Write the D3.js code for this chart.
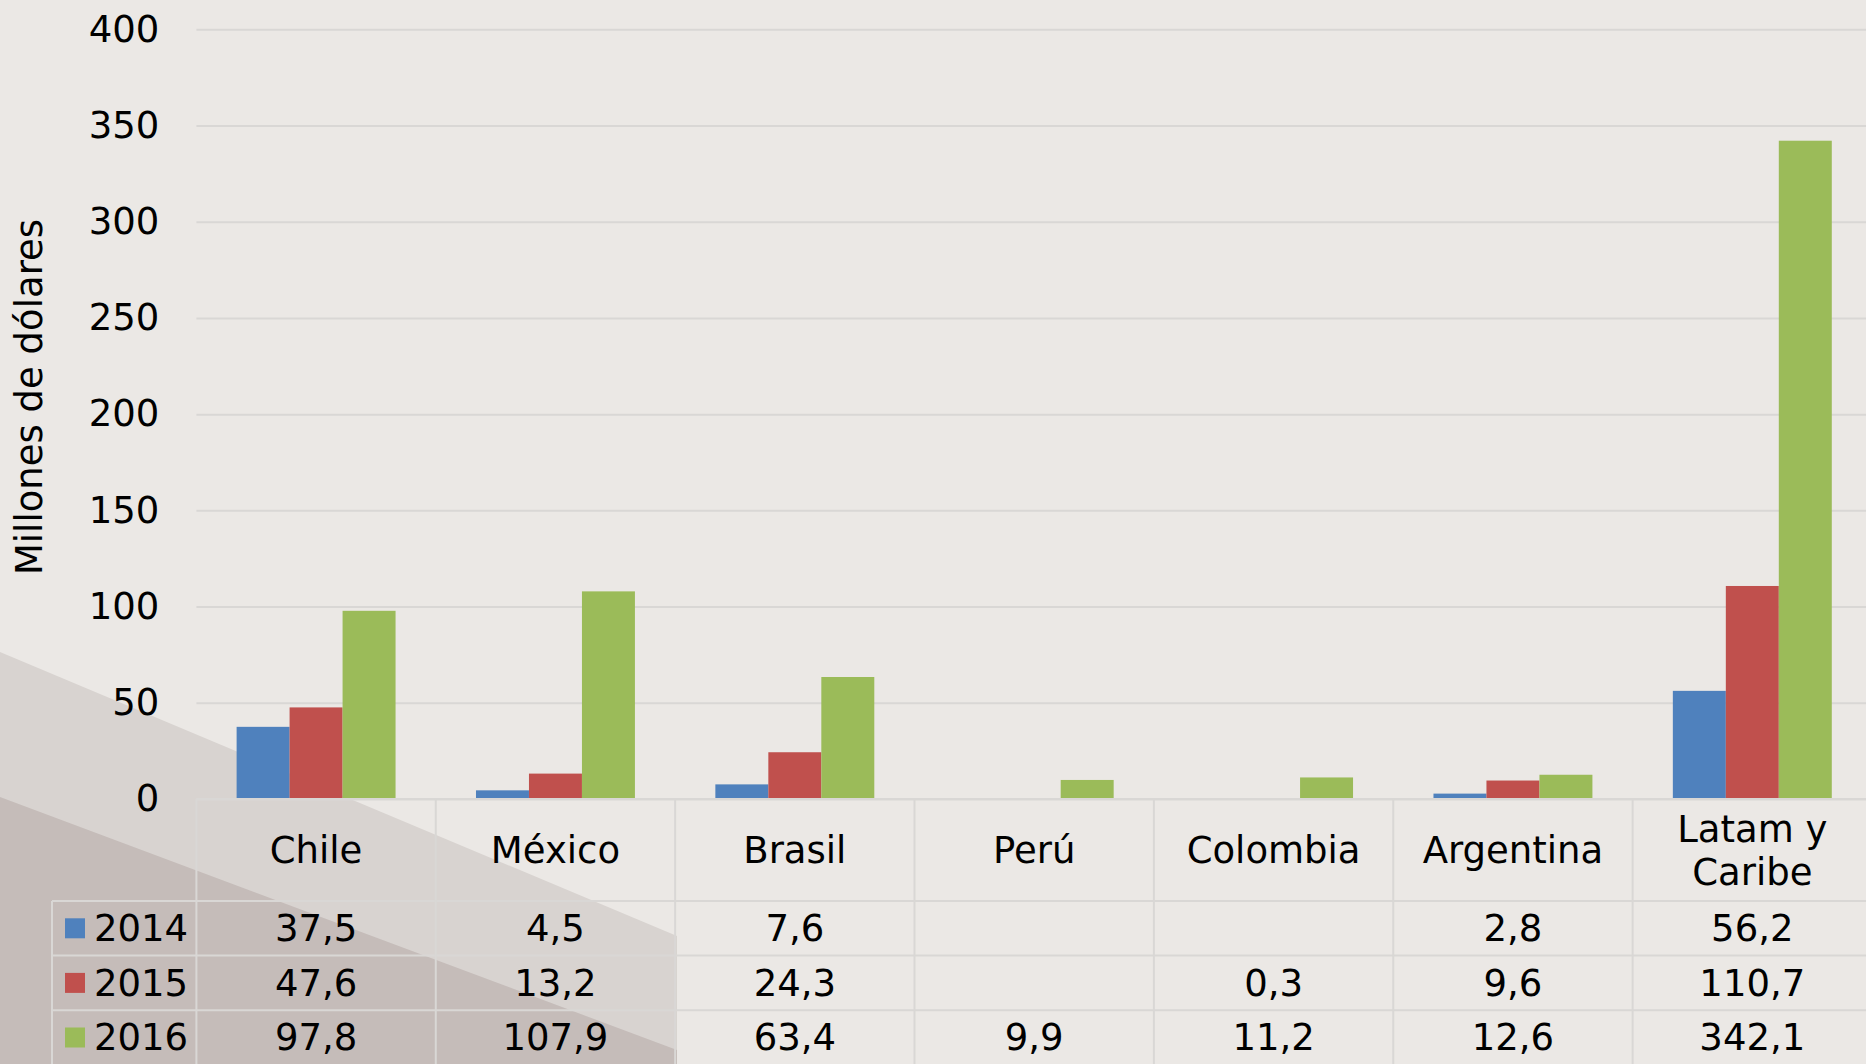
<!DOCTYPE html>
<html>
<head>
<meta charset="utf-8">
<script src="https://cdn.jsdelivr.net/npm/d3@7"></script>
<style>
  html, body { margin: 0; padding: 0; background: #ebe8e5; }
  svg { display: block; }
  text { font-family: "DejaVu Sans", Verdana, sans-serif; fill: #000; }
</style>
</head>
<body>
<div id="chart"></div>
<script>
// data
var categories = ["Chile", "México", "Brasil", "Perú", "Colombia", "Argentina", "Latam y Caribe"];
var years = ["2014", "2015", "2016"];
var values2014 = [37.5, 4.5, 7.6, null, null, 2.8, 56.2];
var values2015 = [47.6, 13.2, 24.3, null, 0.3, 9.6, 110.7];
var values2016 = [97.8, 107.9, 63.4, 9.9, 11.2, 12.6, 342.1];
var yTicks = [0, 50, 100, 150, 200, 250, 300, 350, 400];
var colors = ["#4f81bd", "#c0504d", "#9bbb59"];

var series = [values2014, values2015, values2016];

var W = 1866, H = 1064;
var plotLeft = 196.4, plotRight = 1872, plotTop = 29.3, base = 799;
var headerBottom = 901, rowH = 54.6, legendLeft = 52;
var fontSize = 37;
var lineColor = "#d9d7d5";

var svg = d3.select("#chart").append("svg")
    .attr("width", W)
    .attr("height", H);

svg.append("rect")
    .attr("width", W)
    .attr("height", H)
    .attr("fill", "#ebe8e5");

// shaded diagonal in the bottom left corner
svg.append("polygon")
    .attr("points", "0,652 677,936 677,1064 0,1064")
    .attr("fill", "#d8d3d0");
svg.append("polygon")
    .attr("points", "0,797 677,1050 677,1064 0,1064")
    .attr("fill", "#c5bcb9");

var x = d3.scaleBand()
    .domain(categories)
    .range([plotLeft, plotRight])
    .padding(0);

var bw = x.bandwidth();
var xIn = d3.scaleBand()
    .domain(years)
    .range([bw * 0.168, bw * 0.832])
    .padding(0);

var y = d3.scaleLinear()
    .domain([0, 400])
    .range([base, plotTop]);

// y axis with gridlines
var yAxis = svg.append("g")
    .attr("transform", "translate(" + plotLeft + ",0)")
    .call(d3.axisLeft(y).tickValues(yTicks).tickSize(-(plotRight - plotLeft)).tickPadding(37));

yAxis.select(".domain").remove();
yAxis.selectAll(".tick line")
    .attr("stroke", lineColor)
    .attr("stroke-width", 2);
yAxis.selectAll(".tick text")
    .attr("font-size", fontSize)
    .attr("font-family", "DejaVu Sans, Verdana, sans-serif")
    .attr("fill", "#000");

// bars
series.forEach(function(vals, si) {
    svg.append("g")
        .selectAll("rect")
        .data(vals.map(function(v, i) { return {cat: categories[i], v: v}; })
            .filter(function(d) { return d.v != null; }))
        .enter()
        .append("rect")
            .attr("x", function(d) { return x(d.cat) + xIn(years[si]); })
            .attr("y", function(d) { return y(d.v); })
            .attr("width", xIn.bandwidth())
            .attr("height", function(d) { return base - y(d.v); })
            .attr("fill", colors[si]);
});

// table lines
var tbl = svg.append("g")
    .attr("stroke", lineColor)
    .attr("stroke-width", 2);

tbl.append("line")
    .attr("x1", plotLeft).attr("x2", W)
    .attr("y1", base).attr("y2", base);

years.forEach(function(yr, i) {
    tbl.append("line")
        .attr("x1", legendLeft).attr("x2", W)
        .attr("y1", headerBottom + i * rowH).attr("y2", headerBottom + i * rowH);
});

tbl.append("line")
    .attr("x1", legendLeft).attr("x2", legendLeft)
    .attr("y1", headerBottom).attr("y2", H);

categories.forEach(function(c) {
    tbl.append("line")
        .attr("x1", x(c)).attr("x2", x(c))
        .attr("y1", base).attr("y2", H);
});

// category header texts
var headers = svg.append("g")
    .attr("font-size", fontSize)
    .attr("text-anchor", "middle");

categories.forEach(function(c) {
    var cx = x(c) + bw / 2;
    if (c == "Latam y Caribe") {
        headers.append("text")
            .attr("x", cx).attr("y", 829.5).attr("dy", "0.35em")
            .text("Latam y");
        headers.append("text")
            .attr("x", cx).attr("y", 872).attr("dy", "0.35em")
            .text("Caribe");
    } else {
        headers.append("text")
            .attr("x", cx).attr("y", 850).attr("dy", "0.35em")
            .text(c);
    }
});

// legend column and value rows
var fmt = function(v) { return v == null ? "" : v.toFixed(1).replace(".", ","); };

series.forEach(function(vals, si) {
    var cy = headerBottom + si * rowH + rowH / 2;

    svg.append("rect")
        .attr("x", 65)
        .attr("y", cy - 10)
        .attr("width", 20)
        .attr("height", 20)
        .attr("fill", colors[si]);

    svg.append("text")
        .attr("x", 94)
        .attr("y", cy)
        .attr("dy", "0.35em")
        .attr("font-size", fontSize)
        .text(years[si]);

    svg.append("g")
        .selectAll("text")
        .data(vals)
        .enter()
        .append("text")
            .attr("x", function(d, i) { return x(categories[i]) + bw / 2; })
            .attr("y", cy)
            .attr("dy", "0.35em")
            .attr("font-size", fontSize)
            .attr("text-anchor", "middle")
            .text(fmt);
});

// y axis title
svg.append("text")
    .attr("transform", "translate(29,397) rotate(-90)")
    .attr("dy", "0.35em")
    .attr("font-size", fontSize)
    .attr("text-anchor", "middle")
    .text("Millones de dólares");
</script>
</body>
</html>
